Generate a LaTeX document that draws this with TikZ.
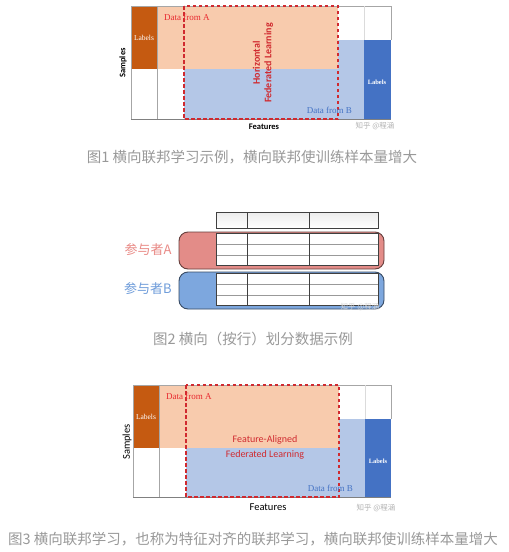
\documentclass[tikz,border=0pt]{standalone}
\usepackage{fontspec}
\setmainfont{Liberation Serif}
\newfontfamily\calfont{Carlito}
\newfontfamily\cjkfont{Noto Sans CJK SC}
\definecolor{brownlab}{HTML}{C55A11}
\definecolor{orangefill}{HTML}{F8CBAD}
\definecolor{bluefill}{HTML}{B4C7E7}
\definecolor{bluelab}{HTML}{4472C4}
\definecolor{reddash}{HTML}{D02A2F}
\definecolor{redtext}{HTML}{E8282E}
\definecolor{captiongray}{HTML}{999999}
\definecolor{gridgray}{HTML}{A6A6A6}
\definecolor{pinkbox}{HTML}{E38C88}
\definecolor{bluebox}{HTML}{7DA7DE}
\definecolor{pinktext}{HTML}{E98A86}
\definecolor{bluetext}{HTML}{6E9CDA}
\tikzset{
  x=1pt, y=-1pt,
  gridline/.style={draw=gridgray, line width=0.7pt},
  framebot/.style={draw=gray, line width=0.8pt},
  dashbox/.style={draw=reddash, line width=1.1pt, dash pattern=on 3.5pt off 2.5pt},
  lab/.style={inner sep=0pt, text=white, font=\fontsize{7.5}{8}\selectfont},
  datatext/.style={inner sep=0pt, font=\fontsize{9}{10}\selectfont},
  axis/.style={inner sep=0pt, font=\calfont\fontsize{8.5}{9}\selectfont\bfseries},
  axisbig/.style={inner sep=0pt, font=\calfont\fontsize{10.5}{11}\selectfont},
  fedtext/.style={inner sep=0pt, text=reddash, font=\calfont\fontsize{10}{11}\selectfont, align=center},
  caption/.style={inner sep=0pt, text=captiongray, font=\cjkfont\fontsize{14.5}{15}\selectfont},
  wm/.style={inner sep=0pt, text=black!30, font=\cjkfont\fontsize{7.5}{8}\selectfont},
  tablegrid/.style={draw=gray!80, line width=0.6pt},
  tableframe/.style={draw=black!75, line width=0.8pt},
  party/.style={inner sep=0pt, font=\cjkfont\fontsize{13}{14}\selectfont},
}
\begin{document}
\begin{tikzpicture}
\useasboundingbox (0,0) rectangle (509,552);
\fill[white] (0,0) rectangle (509,552);

% ---------------- Figure 1 ----------------
\fill[orangefill] (157,6) rectangle (338,69);
\fill[brownlab] (131,6) rectangle (157,69);
\fill[bluefill] (184,69) rectangle (338,119);
\fill[bluefill] (338,40) rectangle (364,119);
\fill[bluelab] (364,40) rectangle (391,119);
\draw[gridline] (131,119) -- (131,6) -- (391,6) -- (391,40);
\draw[gridline] (157,6) -- (157,119);
\draw[gridline, draw=gridgray!40] (364,6) -- (364,40);
\draw[framebot] (131,119) -- (391,119);
\draw[dashbox] (184,6) rectangle (338,119);
\node[lab] (labA1) at (144,38) {Labels};
\node[lab, font=\bfseries\fontsize{6.5}{7}\selectfont] (labB1) at (377,82) {Labels};
\node[datatext, text=redtext, anchor=west] (dA1) at (164,17) {Data from A};
\node[datatext, text=bluelab, anchor=east] (dB1) at (352,110) {Data from B};
\node[fedtext, rotate=90, font=\calfont\bfseries\fontsize{10}{11.5}\selectfont] (hfl) at (263,63) {Horizontal\\Federated Learning};
\node[axis, rotate=90] (s1) at (123,63) {Samples};
\node[axis] (f1) at (264,127) {Features};
\node[wm] (wm1) at (375,126) {知乎 @程涵};
\node[caption] (cap1) at (252,157) {图1 横向联邦学习示例，横向联邦使训练样本量增大};

% ---------------- Figure 2 ----------------
\shade[top color=gray!15, bottom color=white] (216,212) rectangle (378,228);
\draw[tableframe] (216,212) rectangle (378,228);
\draw[tableframe] (247,212) -- (247,228) (309,212) -- (309,228);

\draw[rounded corners=9pt, draw=black!55!pinkbox, line width=0.9pt, fill=pinkbox] (179,232) rectangle (384,269);
\fill[white] (216,233) rectangle (378,265);
\draw[tablegrid] (216,244) -- (378,244) (216,255) -- (378,255);
\draw[tableframe] (216,233) rectangle (378,265);
\draw[tableframe] (247,233) -- (247,265) (309,233) -- (309,265);

\draw[rounded corners=9pt, draw=black!55!bluebox, line width=0.9pt, fill=bluebox] (179,272) rectangle (384,309);
\fill[white] (216,273) rectangle (378,305);
\draw[tablegrid] (216,284) -- (378,284) (216,295) -- (378,295);
\draw[tableframe] (216,273) rectangle (378,305);
\draw[tableframe] (247,273) -- (247,305) (309,273) -- (309,305);

\node[party, text=pinktext] (pA) at (148,250) {参与者A};
\node[party, text=bluetext] (pB) at (148,289) {参与者B};
\node[wm, text=white!70!gray] (wm2) at (360,307) {知乎 @程涵};
\node[caption] (cap2) at (253,339) {图2 横向（按行）划分数据示例};

% ---------------- Figure 3 ----------------
\fill[orangefill] (159,385) rectangle (339,448);
\fill[brownlab] (133,385) rectangle (159,448);
\fill[bluefill] (186,448) rectangle (339,497);
\fill[bluefill] (339,419) rectangle (365,497);
\fill[bluelab] (365,419) rectangle (391,497);
\draw[gridline] (133,497) -- (133,385) -- (391,385) -- (391,419);
\draw[gridline] (159,385) -- (159,497);
\draw[gridline, draw=gridgray!40] (365,385) -- (365,419);
\draw[framebot] (133,497) -- (391,497);
\draw[dashbox] (186,385) rectangle (339,497);
\node[lab] (labA3) at (146,417) {Labels};
\node[lab, font=\bfseries\fontsize{6.5}{7}\selectfont] (labB3) at (378,461) {Labels};
\node[datatext, text=redtext, anchor=west] (dA3) at (166,396) {Data from A};
\node[datatext, text=bluelab, anchor=east] (dB3) at (353,488) {Data from B};
\node[fedtext] (fa) at (265,440) {Feature-Aligned};
\node[fedtext] (fl) at (265,455) {Federated Learning};
\node[axisbig, rotate=90] (s3) at (127,442) {Samples};
\node[axisbig] (f3) at (268,507) {Features};
\node[wm] (wm3) at (376,508) {知乎 @程涵};
\node[caption] (cap3) at (253,539) {图3 横向联邦学习，也称为特征对齐的联邦学习，横向联邦使训练样本量增大};
\end{tikzpicture}
\end{document}
